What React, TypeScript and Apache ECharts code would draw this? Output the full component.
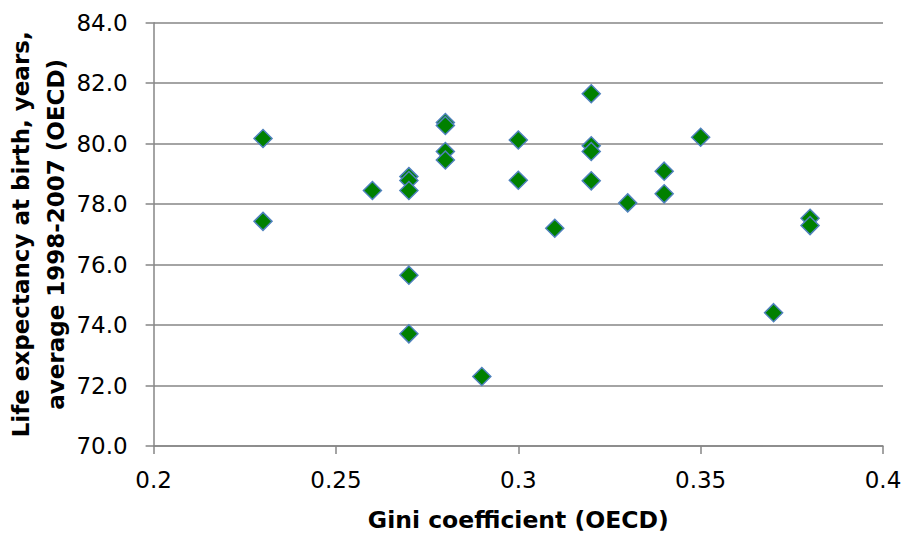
import React, { useEffect, useRef } from "react";
import * as echarts from "echarts";

const giniValues = [
  0.23, 0.23, 0.26, 0.27, 0.27, 0.27, 0.27, 0.27, 0.28, 0.28, 0.28, 0.28, 0.29,
  0.3, 0.3, 0.31, 0.32, 0.32, 0.32, 0.32, 0.33, 0.34, 0.34, 0.35, 0.37, 0.38, 0.38,
];
const lifeExpectancy = [
  80.17, 77.43, 78.45, 78.91, 78.78, 78.45, 75.65, 73.71, 80.7, 80.6, 79.74, 79.46, 72.3,
  80.12, 78.79, 77.2, 81.65, 79.93, 79.74, 78.77, 78.04, 79.09, 78.34, 80.21, 74.41, 77.53, 77.29,
];
const xTitle = "Gini coefficient (OECD)";
const yTitle = "Life expectancy at birth, years,\naverage 1998-2007 (OECD)";

export default function App() {
  const ref = useRef<HTMLDivElement>(null);
  useEffect(() => {
    if (!ref.current) return;
    const chart = echarts.init(ref.current, null, { renderer: "svg" });
    const font = "DejaVu Sans";
    const gray = "#868686";
    chart.setOption({
      animation: false,
      backgroundColor: "#ffffff",
      grid: {
        left: 153.6,
        right: 19,
        top: 22.7,
        bottom: 89,
        containLabel: false,
        outerBoundsMode: "none",
      },
      xAxis: {
        type: "value",
        min: 0.2,
        max: 0.4,
        interval: 0.05,
        name: xTitle,
        nameLocation: "middle",
        nameGap: 62,
        nameMoveOverlap: false,
        nameTextStyle: { fontFamily: font, fontSize: 23.5, fontWeight: "bold", color: "#000" },
        axisLine: { show: true, lineStyle: { color: gray, width: 1.5 } },
        axisTick: { show: true, inside: false, length: 8, lineStyle: { color: gray, width: 1.5 } },
        axisLabel: {
          margin: 22,
          fontFamily: font,
          fontSize: 23,
          color: "#000",
          formatter: (v: number) => String(Number(v.toFixed(2))),
        },
        splitLine: { show: false },
      },
      yAxis: {
        type: "value",
        min: 70,
        max: 84,
        interval: 2,
        name: yTitle,
        nameLocation: "middle",
        nameRotate: 90,
        nameGap: 80,
        nameMoveOverlap: false,
        nameTextStyle: {
          fontFamily: font,
          fontSize: 23,
          fontWeight: "bold",
          color: "#000",
          lineHeight: 35,
          align: "center",
        },
        axisLine: { show: true, lineStyle: { color: gray, width: 1.5 } },
        axisTick: { show: true, inside: false, length: 8, lineStyle: { color: gray, width: 1.5 } },
        axisLabel: {
          margin: 26,
          fontFamily: font,
          fontSize: 23,
          color: "#000",
          formatter: (v: number) => v.toFixed(1),
        },
        splitLine: { show: true, lineStyle: { color: gray, width: 1.5 } },
      },
      series: [
        {
          type: "scatter",
          symbol: "diamond",
          symbolSize: 18,
          data: giniValues.map((g, i) => [g, lifeExpectancy[i]]),
          itemStyle: { color: "#008000", borderColor: "#4F81BD", borderWidth: 1.5, opacity: 1 },
        },
      ],
    });
    return () => chart.dispose();
  }, []);
  return (
    <div
      ref={ref}
      style={{ position: "absolute", left: 0, top: 0, width: 902, height: 535 }}
    />
  );
}
